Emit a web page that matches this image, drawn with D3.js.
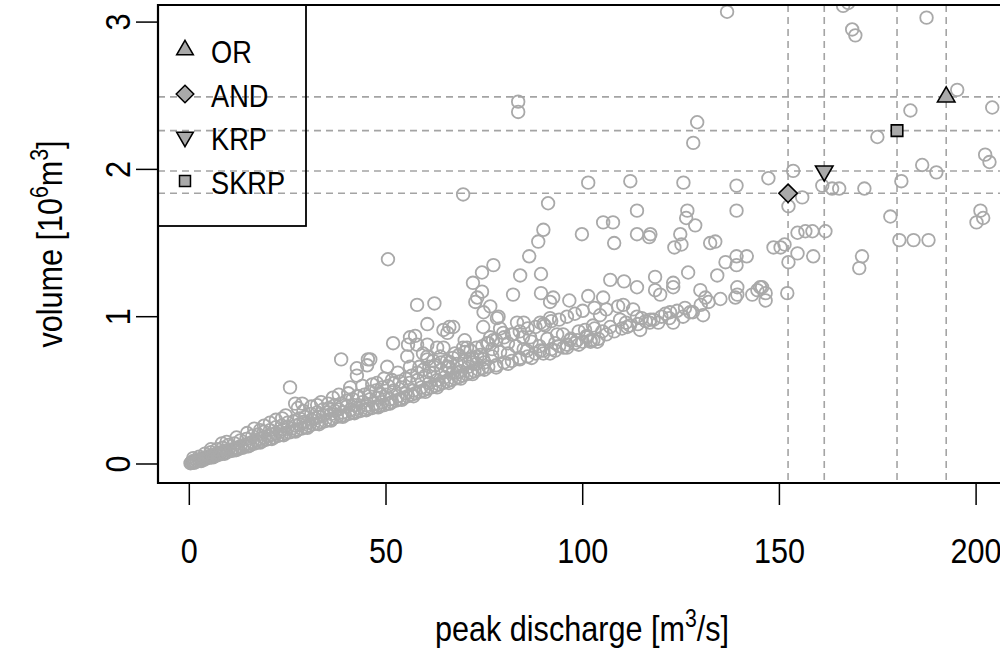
<!DOCTYPE html>
<html><head><meta charset="utf-8">
<script src="https://cdn.jsdelivr.net/npm/d3@7"></script>
<style>
body{margin:0;background:#fff}
svg{display:block}
text{font-family:"Liberation Sans","Arial",sans-serif;fill:#000}
</style>
</head><body>
<svg id="chart" width="1000" height="653"></svg>
<script>
// ---- data ----
const xTicks = [0, 50, 100, 150, 200];
const yTicks = [0, 1, 2, 3];
const methods = ["OR", "AND", "KRP", "SKRP"];
const methodSymbols = ["up", "diamond", "down", "square"];
const methodDischarge = [192.4, 152.2, 161.4, 179.9];
const methodVolume = [2.492, 1.838, 1.989, 2.263];

// events: [peak discharge (m3/s), volume (10^6 m3)]
const upperEvents = [
[136.7,3.07],[166.2,3.11],[167.5,3.13],[168.5,2.95],[169.3,2.91],[187.4,3.03],[195.2,2.54],[204.1,2.42],[183.3,2.40],[174.9,2.22],
[202.3,2.10],[203.4,2.05],[186.3,2.03],[189.9,1.98],[181.0,1.92],[201.1,1.72],[201.8,1.67],[200.1,1.64],[178.2,1.68],[180.5,1.52],
[184.1,1.52],[187.9,1.52],[171.0,1.41],[170.3,1.33],[171.6,1.87],[163.4,1.87],[165.2,1.87],[160.9,1.89],[153.5,1.99],[155.8,1.81],
[152.3,1.75],[147.2,1.94],[139.1,1.89],[125.6,1.91],[129.1,2.32],[128.1,2.18],[126.6,1.72],[126.3,1.67],[128.6,1.62],[139.1,1.72],
[124.8,1.56],[123.3,1.47],[125.1,1.49],[132.4,1.50],[133.7,1.51],[117.2,1.56],[148.5,1.47],[150.3,1.47],[151.3,1.49],[154.6,1.57],
[156.6,1.58],[158.4,1.58],[161.7,1.58],[154.6,1.43],[152.3,1.37],[158.6,1.41],[139.1,1.41],[141.7,1.41],[139.1,1.35],[136.3,1.37],
[134.2,1.28],[152.0,1.16],[126.8,1.30],[118.4,1.27],[118.4,1.18],[119.7,1.15],[123.0,1.23],[123.0,1.20],[129.9,1.18],[131.2,1.13],
[139.3,1.20],[139.3,1.15],[138.8,1.13],[143.1,1.15],[144.4,1.18],[145.6,1.20],[146.5,1.16],[146.5,1.11],[145.1,1.20],[122.2,1.03],
[119.2,0.96],[123.0,0.96],[125.5,1.00],[127.3,1.03],[130.6,1.01],[117.2,0.98]
];
const midEvents = [
[101.4,1.91],[112.1,1.92],[91.2,1.77],[113.8,1.72],[105.2,1.64],[107.7,1.64],[99.8,1.56],[108.0,1.50],[113.8,1.56],[116.9,1.54],
[90.0,1.59],[88.7,1.51],[86.4,1.41],[77.3,1.35],[74.4,1.30],[84.1,1.28],[89.4,1.29],[72.1,1.23],[74.4,1.17],[73.2,1.13],
[82.3,1.15],[89.4,1.16],[91.7,1.10],[92.5,1.13],[96.6,1.11],[101.4,1.14],[105.2,1.13],[107.0,1.25],[110.5,1.24],[113.8,1.20],
[74.8,1.03],[78.6,1.00],[85.0,0.96],[89.2,0.96],[90.4,0.94],[91.7,0.99],[104.4,1.01],[102.6,0.94],[100.6,0.91],[110.3,1.08],
[112.8,1.05],[113.8,1.00],[109.5,0.98],[111.3,0.93],[114.6,0.91],[117.0,0.96],[76.5,0.86],[79.8,0.89],[82.3,0.88],[86.6,0.86],
[93.5,0.88],[96.8,0.84],[101.1,0.86],[103.7,0.83],
[69.6,1.83],[83.6,2.46],[83.6,2.39],[50.5,1.39],[57.9,1.08],[62.3,1.09],[60.5,0.95],[64.6,0.91],[66.1,0.93],[67.1,0.93],
[65.6,0.89],[76.5,1.07],[51.8,0.82],[56.1,0.86],[57.4,0.87],[55.6,0.81],[57.9,0.81],[60.5,0.81],[63.0,0.79],[38.6,0.71],
[45.4,0.71],[45.2,0.67],[42.6,0.65],[50.3,0.66],[55.4,0.73],[56.1,0.66],[60.5,0.73],[63.8,0.73],[66.3,0.69],[70.6,0.79],
[73.2,0.73],[72.1,0.69],[74.7,0.71],[25.6,0.52],[28.7,0.41],[26.9,0.41],[27.6,0.38],[32.5,0.40],[35.3,0.41],[40.9,0.52],
[40.4,0.48],[42.6,0.46],[47.7,0.55],[48.5,0.48],[42.6,0.60],[8.3,0.14],[14.7,0.21],[18.0,0.23],[20.5,0.28],[23.6,0.31],
[46.0,0.71],[72.7,1.10],[78.2,0.99],[79.0,0.92],[74.7,0.93],[77.2,0.84],[75.7,0.82],[83.3,0.96],[84.8,0.86],[85.8,0.77],
[89.2,0.77],[91.7,0.75],[95.1,0.79],[98.6,0.84],[102.7,0.84],[69.6,0.79],[71.4,0.71],[64.6,0.79],[65.6,0.66],[68.1,0.62],
[59.4,0.75],[60.5,0.71],[61.2,0.62],[53.0,0.62],[58.5,0.66],[62.0,0.70],[67.5,0.75],[70.0,0.84],[77.0,0.78],[81.0,0.82],
[36.5,0.45],[44.0,0.53],[49.5,0.58],[31.0,0.39],[22.0,0.30],[12.0,0.18],[16.5,0.24],
[5.5,0.10],[9.5,0.15],[19.0,0.26],[24.5,0.33],[29.0,0.36],[33.5,0.42],[38.0,0.47],[46.5,0.54],[51.5,0.57]
];
const bandEvents = [
[0.3,0.005],[0.5,0.01],[0.8,0.012],[1.0,0.02],[1.2,0.008],[1.5,0.015],[1.8,0.025],[2.0,0.018],[2.3,0.03],[2.6,0.022],
[3.0,0.035],[3.2,0.028],[3.5,0.04],[3.8,0.03],[4.0,0.045],[4.3,0.038],[4.7,0.05],[5.0,0.042],[5.3,0.055],[5.6,0.048],
[6.0,0.06],[6.3,0.052],[6.7,0.068],[7.0,0.058],[7.4,0.075],[7.8,0.065],[8.2,0.08],[8.6,0.072],[9.0,0.09],[9.5,0.08],[10.0,0.095],
[10.5,0.088],[11.0,0.1],[11.5,0.093],[12.0,0.11],[12.5,0.102],[13.0,0.12],[13.5,0.11],[14.0,0.128],[14.5,0.12],[15.0,0.14],
[15.5,0.128],[16.0,0.15],[16.5,0.138],[17.0,0.16],[17.5,0.148],[18.0,0.17],[18.5,0.155],[19.0,0.18],[19.5,0.165],[20.0,0.19],
[20.5,0.172],[21.0,0.2],[21.5,0.18],[22.0,0.21],[22.5,0.19],[23.0,0.22],[23.5,0.2],[24.0,0.235],[24.5,0.21],[25.0,0.25],
[25.5,0.215],[26.0,0.24],[26.5,0.225],[27.0,0.26],[27.5,0.232],[28.0,0.27],[28.5,0.24],[29.0,0.285],[29.5,0.25],[30.0,0.28],
[30.5,0.26],[31.0,0.3],[31.5,0.27],[32.0,0.31],[32.5,0.275],[33.0,0.32],[33.5,0.285],[34.0,0.33],[34.5,0.29],[35.0,0.35],
[35.5,0.3],[36.0,0.34],[36.5,0.31],[37.0,0.36],[37.5,0.32],[38.0,0.37],[38.5,0.325],[39.0,0.35],[39.5,0.33],[40.0,0.39],
[40.5,0.34],[41.0,0.37],[41.5,0.35],[42.0,0.4],[42.5,0.355],[43.0,0.38],[43.5,0.36],[44.0,0.42],[44.5,0.37],[45.0,0.4],
[45.5,0.375],[46.0,0.44],[46.5,0.38],[47.0,0.41],[47.5,0.39],[48.0,0.45],[48.5,0.395],[49.0,0.42],[49.5,0.4],[50.0,0.47],
[50.5,0.41],[51.0,0.44],[51.5,0.42],[52.0,0.5],[52.5,0.43],[53.0,0.46],[53.5,0.44],[54.0,0.52],[54.5,0.45],[55.0,0.48],
[55.5,0.46],[56.0,0.55],[56.5,0.47],[57.0,0.5],[57.5,0.48],[58.0,0.57],[58.5,0.49],[59.0,0.52],[59.5,0.5],[60.0,0.6],
[60.5,0.51],[61.0,0.55],[61.5,0.52],[62.0,0.62],[62.5,0.53],[63.0,0.57],[63.5,0.54],[64.0,0.64],[64.5,0.55],[65.0,0.59],
[65.5,0.56],[66.0,0.66],[66.5,0.57],[67.0,0.62],[67.5,0.58],[68.0,0.68],[68.5,0.59],[69.0,0.63],[69.5,0.6],[70.0,0.7],
[70.5,0.61],[71.0,0.66],[71.5,0.62],[72.0,0.72],[72.5,0.63],[73.0,0.68],[73.5,0.64],[74.0,0.74],[74.5,0.65],[75.0,0.69],
[76,0.66],[77,0.73],[78,0.67],[79,0.76],[80,0.69],[81,0.75],[82,0.7],[83,0.8],[84,0.72],[85,0.78],
[86,0.73],[87,0.83],[88,0.75],[89,0.8],[90,0.77],[91,0.85],[92,0.78],[93,0.82],[94,0.8],[95,0.88],
[96,0.81],[97,0.85],[98,0.82],[99,0.9],[100,0.83],[101,0.87],[102,0.84],[103,0.92],[104,0.85],[105,0.9],
[106,0.88],[107,0.93],[108,0.9],[110,0.92],[111,0.96],[112,0.94],[114,0.95],[115,0.99],[116,0.97],[118,0.98],
[120,1.0],[121,1.02],[122,0.99],[124,1.04],[126,1.06],[128,1.03],[130,1.08],[132,1.1],[135,1.12]
];
const bandUpperEvents = [
[1.0,0.04],[2.5,0.05],[4.0,0.07],[5.5,0.08],[7.0,0.1],[8.5,0.11],[10.0,0.13],[11.5,0.14],[13.0,0.16],[14.5,0.17],
[16.0,0.19],[17.5,0.2],[19.0,0.22],[20.5,0.23],[22.0,0.25],[23.5,0.26],[25.0,0.28],[26.5,0.29],[28.0,0.31],[29.5,0.32],
[31.0,0.34],[32.5,0.35],[34.0,0.37],[35.5,0.38],[37.0,0.4],[38.5,0.41],[40.0,0.43],[41.5,0.44],[43.0,0.46],[44.5,0.47],
[46.0,0.49],[47.5,0.5],[49.0,0.52],[50.5,0.53],[52.0,0.55],[53.5,0.56],[55.0,0.58],[56.5,0.6],[58.0,0.62],[59.5,0.64],
[61.0,0.66],[62.5,0.67],[64.0,0.69],[65.5,0.7],[67.0,0.72],[68.5,0.74],[70.0,0.76],[71.5,0.77],[73.0,0.79],[74.5,0.8],
[76,0.82],[78,0.84],[80,0.86],[82,0.88],[84,0.9],[86,0.92],[88,0.93],[90,0.95],[92,0.97],[94,0.98],
[96,1.0],[98,1.02],[100,1.04],[103,1.06],[106,1.05],[109,1.07]
];
const bandLowerEvents = [
[3.0,0.02],[6.0,0.045],[9.0,0.07],[12.0,0.095],[15.0,0.12],[18.0,0.145],[21.0,0.17],[24.0,0.195],[27.0,0.22],[30.0,0.245],
[33.0,0.27],[36.0,0.295],[39.0,0.32],[42.0,0.345],[45.0,0.365],[48.0,0.385],[51.0,0.41],[54.0,0.435],[57.0,0.46],[60.0,0.49],
[63.0,0.52],[66.0,0.55],[69.0,0.58],[72.0,0.61],[75.0,0.64],[78.0,0.655],[81.0,0.68],[84.0,0.71],[87.0,0.72],[90.0,0.75],
[93.0,0.77],[96.0,0.79],[99.0,0.81],[102.0,0.83]
];
const events = bandEvents.concat(bandUpperEvents, bandLowerEvents, midEvents, upperEvents);

// ---- layout ----
const svg = d3.select("#chart");
const plot = {left: 158, right: 1006, top: 5, bottom: 483};
const x = d3.scaleLinear().domain([-7.96, 207.6]).range([plot.left, plot.right]);
const y = d3.scaleLinear().domain([-0.129, 3.116]).range([plot.bottom, plot.top]);
const grey = "#a9a9a9";
const SX = 0.85; // narrow font emulation

svg.append("defs").append("clipPath").attr("id", "clip")
  .append("rect").attr("x", plot.left).attr("y", plot.top)
  .attr("width", plot.right - plot.left).attr("height", plot.bottom - plot.top);

const g = svg.append("g").attr("clip-path", "url(#clip)");

// scatter circles
g.selectAll("circle.ev").data(events).enter().append("circle")
  .attr("class", "ev")
  .attr("cx", d => x(d[0])).attr("cy", d => y(d[1])).attr("r", 6.3)
  .attr("fill", "none").attr("stroke", grey).attr("stroke-width", 1.8);

// dashed reference lines
g.selectAll("line.vref").data(methodDischarge).enter().append("line")
  .attr("x1", d => x(d)).attr("x2", d => x(d))
  .attr("y1", plot.top).attr("y2", plot.bottom)
  .attr("stroke", "#a4a4a4").attr("stroke-width", 1.6).attr("stroke-dasharray", "7,5");
g.selectAll("line.href").data(methodVolume).enter().append("line")
  .attr("y1", d => y(d)).attr("y2", d => y(d))
  .attr("x1", plot.left).attr("x2", plot.right)
  .attr("stroke", "#a4a4a4").attr("stroke-width", 1.6).attr("stroke-dasharray", "7,5");

function symPath(type, r) {
  if (type === "up") return `M0,${-1.555*r}L${1.347*r},${0.778*r}L${-1.347*r},${0.778*r}Z`;
  if (type === "down") return `M0,${1.555*r}L${1.347*r},${-0.778*r}L${-1.347*r},${-0.778*r}Z`;
  if (type === "diamond") { const d = 1.414*r; return `M0,${-d}L${d},0L0,${d}L${-d},0Z`; }
  const s = 0.886*r; return `M${-s},${-s}H${s}V${s}H${-s}Z`;
}

// method points
g.selectAll("path.m").data(methods).enter().append("path")
  .attr("transform", (d, i) => `translate(${x(methodDischarge[i])},${y(methodVolume[i])})`)
  .attr("d", (d, i) => symPath(methodSymbols[i], 6.5))
  .attr("fill", grey).attr("stroke", "#000").attr("stroke-width", 1.6);

// box (left, top, bottom)
svg.append("path")
  .attr("d", `M${plot.right+5},${plot.top}H${plot.left}V${plot.bottom}H${plot.right+5}`)
  .attr("fill", "none").attr("stroke", "#000").attr("stroke-width", 2.2);

// axes
const xAxis = svg.append("g");
xAxis.selectAll("line").data(xTicks).enter().append("line")
  .attr("x1", d => x(d)).attr("x2", d => x(d))
  .attr("y1", plot.bottom).attr("y2", plot.bottom + 22)
  .attr("stroke", "#000").attr("stroke-width", 1.5);
xAxis.selectAll("text").data(xTicks).enter().append("text")
  .attr("transform", d => `translate(${x(d)},563) scale(${SX},1)`)
  .attr("text-anchor", "middle").attr("font-size", 36).text(d => d);

const yAxis = svg.append("g");
yAxis.selectAll("line").data(yTicks).enter().append("line")
  .attr("y1", d => y(d)).attr("y2", d => y(d))
  .attr("x1", plot.left - 22).attr("x2", plot.left)
  .attr("stroke", "#000").attr("stroke-width", 1.5);
yAxis.selectAll("text").data(yTicks).enter().append("text")
  .attr("transform", d => `translate(130,${y(d)}) rotate(-90) scale(${SX},1)`)
  .attr("text-anchor", "middle").attr("font-size", 36).text(d => d);

// axis titles
const xt = svg.append("text")
  .attr("transform", `translate(${(plot.left + plot.right) / 2},641) scale(${SX},1)`)
  .attr("text-anchor", "middle").attr("font-size", 36);
xt.append("tspan").text("peak discharge [m");
xt.append("tspan").attr("font-size", 25).attr("dy", -14).text("3");
xt.append("tspan").attr("dy", 14).text("/s]");

const yt = svg.append("text")
  .attr("transform", `translate(62,${(plot.top + plot.bottom) / 2}) rotate(-90) scale(${SX},1)`)
  .attr("text-anchor", "middle").attr("font-size", 36);
yt.append("tspan").text("volume [10");
yt.append("tspan").attr("font-size", 25).attr("dy", -14).text("6");
yt.append("tspan").attr("dy", 14).text("m");
yt.append("tspan").attr("font-size", 25).attr("dy", -14).text("3");
yt.append("tspan").attr("dy", 14).text("]");

// legend
const leg = svg.append("g");
leg.append("rect").attr("x", plot.left).attr("y", plot.top)
  .attr("width", 148).attr("height", 221)
  .attr("fill", "none").attr("stroke", "#000").attr("stroke-width", 1.8);
const legBase = [63, 107, 150, 194];
methods.forEach((m, i) => {
  leg.append("path")
    .attr("transform", `translate(185,${legBase[i] - 13})`)
    .attr("d", symPath(methodSymbols[i], 6.2))
    .attr("fill", grey).attr("stroke", "#000").attr("stroke-width", 1.5);
  leg.append("text").attr("transform", `translate(211,${legBase[i]}) scale(${SX},1)`)
    .attr("font-size", 32).text(m);
});
</script>
</body></html>
